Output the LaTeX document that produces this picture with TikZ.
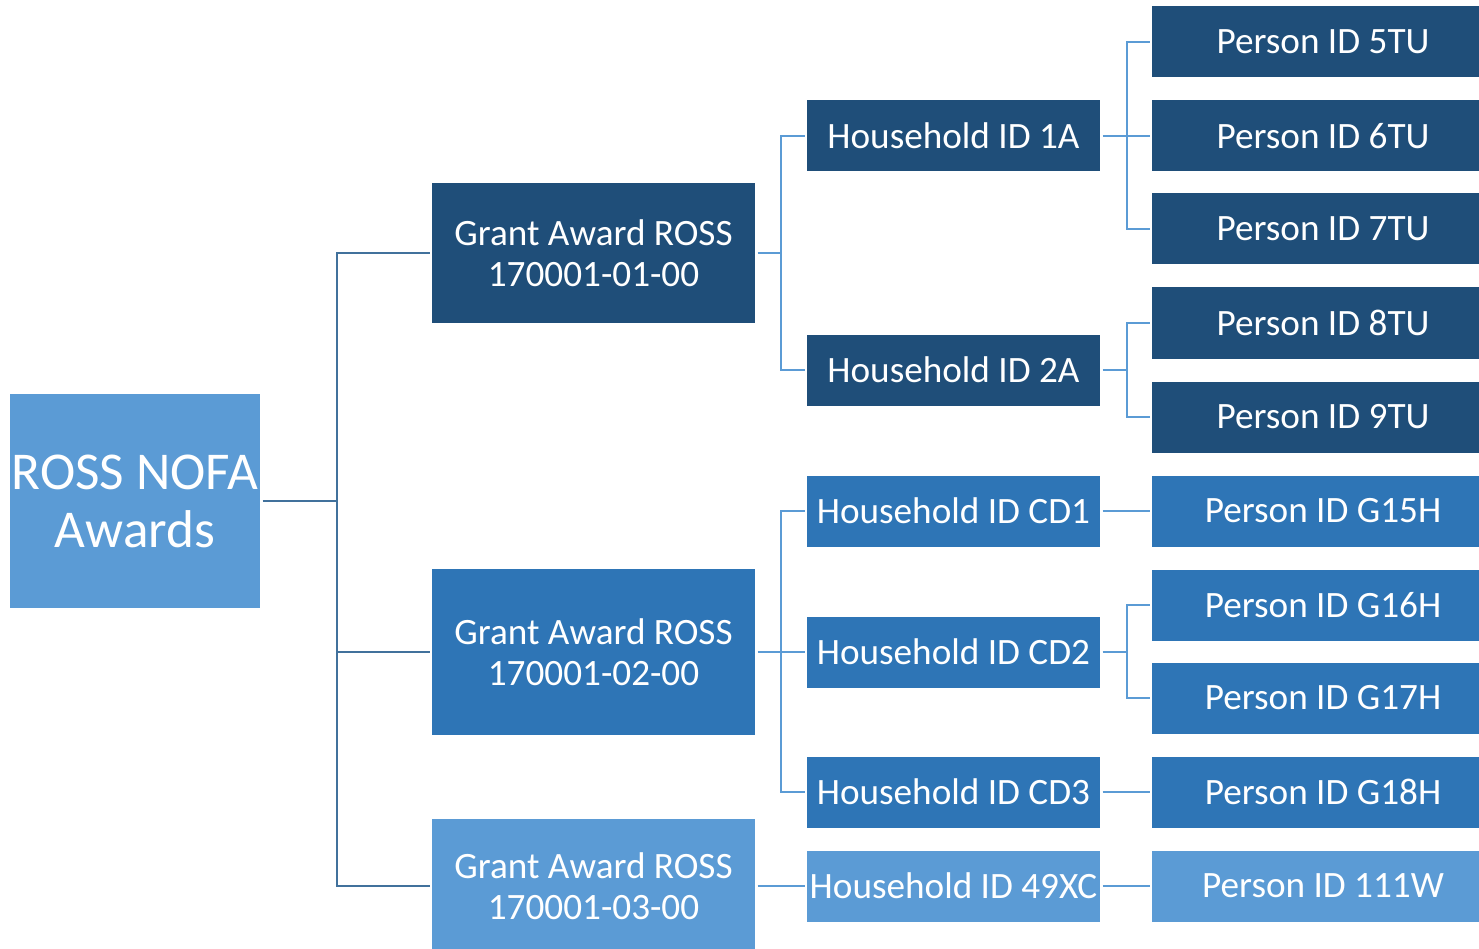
\documentclass[tikz,border=0pt]{standalone}
\usepackage{fontspec}
\setmainfont{Carlito}
\definecolor{cdark}{HTML}{1F4E79}
\definecolor{cmed}{HTML}{2E75B6}
\definecolor{clight}{HTML}{5B9BD5}
\definecolor{lineA}{HTML}{41719C}
\definecolor{lineB}{HTML}{5B9BD5}
\tikzset{
  box/.style={rectangle, inner sep=0pt, outer sep=2.5pt, text=white, align=center,
    font=\fontsize{37.2}{41}\selectfont},
  grantbox/.style={box, minimum width=323pt},
  hhbox/.style={box, minimum width=293pt, minimum height=71pt},
  pbox/.style={box, minimum width=342pt, minimum height=71pt},
  linkA/.style={draw=lineA, line width=2.6pt},
  linkB/.style={draw=lineB, line width=2.3pt},
}
\begin{document}
\begin{tikzpicture}[x=1pt,y=-1pt]
\useasboundingbox (0,0) rectangle (1479,949);
\clip (0,0) rectangle (1479,949);
% root
\node[box, fill=clight, minimum width=250pt, minimum height=214pt,
  font=\fontsize{53.2}{58}\selectfont] (root) at (135,501) {ROSS NOFA\\Awards};
% grants
\node[grantbox, fill=cdark, minimum height=140pt] (g1) at (593.5,253) {Grant Award ROSS\\170001-01-00};
\node[grantbox, fill=cmed, minimum height=166pt] (g2) at (593.5,652) {Grant Award ROSS\\170001-02-00};
\node[grantbox, fill=clight, minimum height=134pt] (g3) at (593.5,886) {Grant Award ROSS\\170001-03-00};
% households
\node[hhbox, fill=cdark] (h1) at (953.5,136) {Household ID 1A};
\node[hhbox, fill=cdark] (h2) at (953.5,370) {Household ID 2A};
\node[hhbox, fill=cmed] (h3) at (953.5,511) {Household ID CD1};
\node[hhbox, fill=cmed] (h4) at (953.5,652) {Household ID CD2};
\node[hhbox, fill=cmed] (h5) at (953.5,792) {Household ID CD3};
\node[hhbox, fill=clight] (h6) at (953.5,886) {Household ID 49XC};
% persons
\node[pbox, fill=cdark] (p1) at (1323,42) {Person ID 5TU};
\node[pbox, fill=cdark] (p2) at (1323,136) {Person ID 6TU};
\node[pbox, fill=cdark] (p3) at (1323,229) {Person ID 7TU};
\node[pbox, fill=cdark] (p4) at (1323,323) {Person ID 8TU};
\node[pbox, fill=cdark] (p5) at (1323,417) {Person ID 9TU};
\node[pbox, fill=cmed] (p6) at (1323,511) {Person ID G15H};
\node[pbox, fill=cmed] (p7) at (1323,605) {Person ID G16H};
\node[pbox, fill=cmed] (p8) at (1323,698) {Person ID G17H};
\node[pbox, fill=cmed] (p9) at (1323,792) {Person ID G18H};
\node[pbox, fill=clight] (p10) at (1323,886) {Person ID 111W};
% bus coordinates
\coordinate (b0) at (337,501);
\coordinate (b1) at (781,253);
\coordinate (b2) at (781,652);
\coordinate (b3) at (1127,136);
\coordinate (b4) at (1127,370);
\coordinate (b5) at (1127,652);
% root level
\draw[linkA] (root.east) -- (b0);
\draw[linkA] (b0) |- (g1.west);
\draw[linkA] (b0) |- (g2.west);
\draw[linkA] (b0) |- (g3.west);
% grant level
\draw[linkB] (g1.east) -- (b1);
\draw[linkB] (b1) |- (h1.west);
\draw[linkB] (b1) |- (h2.west);
\draw[linkB] (g2.east) -- (b2);
\draw[linkB] (b2) |- (h3.west);
\draw[linkB] (b2) -- (h4.west);
\draw[linkB] (b2) |- (h5.west);
\draw[linkB] (g3.east) -- (h6.west);
% household level
\draw[linkB] (h1.east) -- (b3);
\draw[linkB] (b3) |- (p1.west);
\draw[linkB] (b3) -- (p2.west);
\draw[linkB] (b3) |- (p3.west);
\draw[linkB] (h2.east) -- (b4);
\draw[linkB] (b4) |- (p4.west);
\draw[linkB] (b4) |- (p5.west);
\draw[linkB] (h3.east) -- (p6.west);
\draw[linkB] (h4.east) -- (b5);
\draw[linkB] (b5) |- (p7.west);
\draw[linkB] (b5) |- (p8.west);
\draw[linkB] (h5.east) -- (p9.west);
\draw[linkB] (h6.east) -- (p10.west);
\end{tikzpicture}
\end{document}
